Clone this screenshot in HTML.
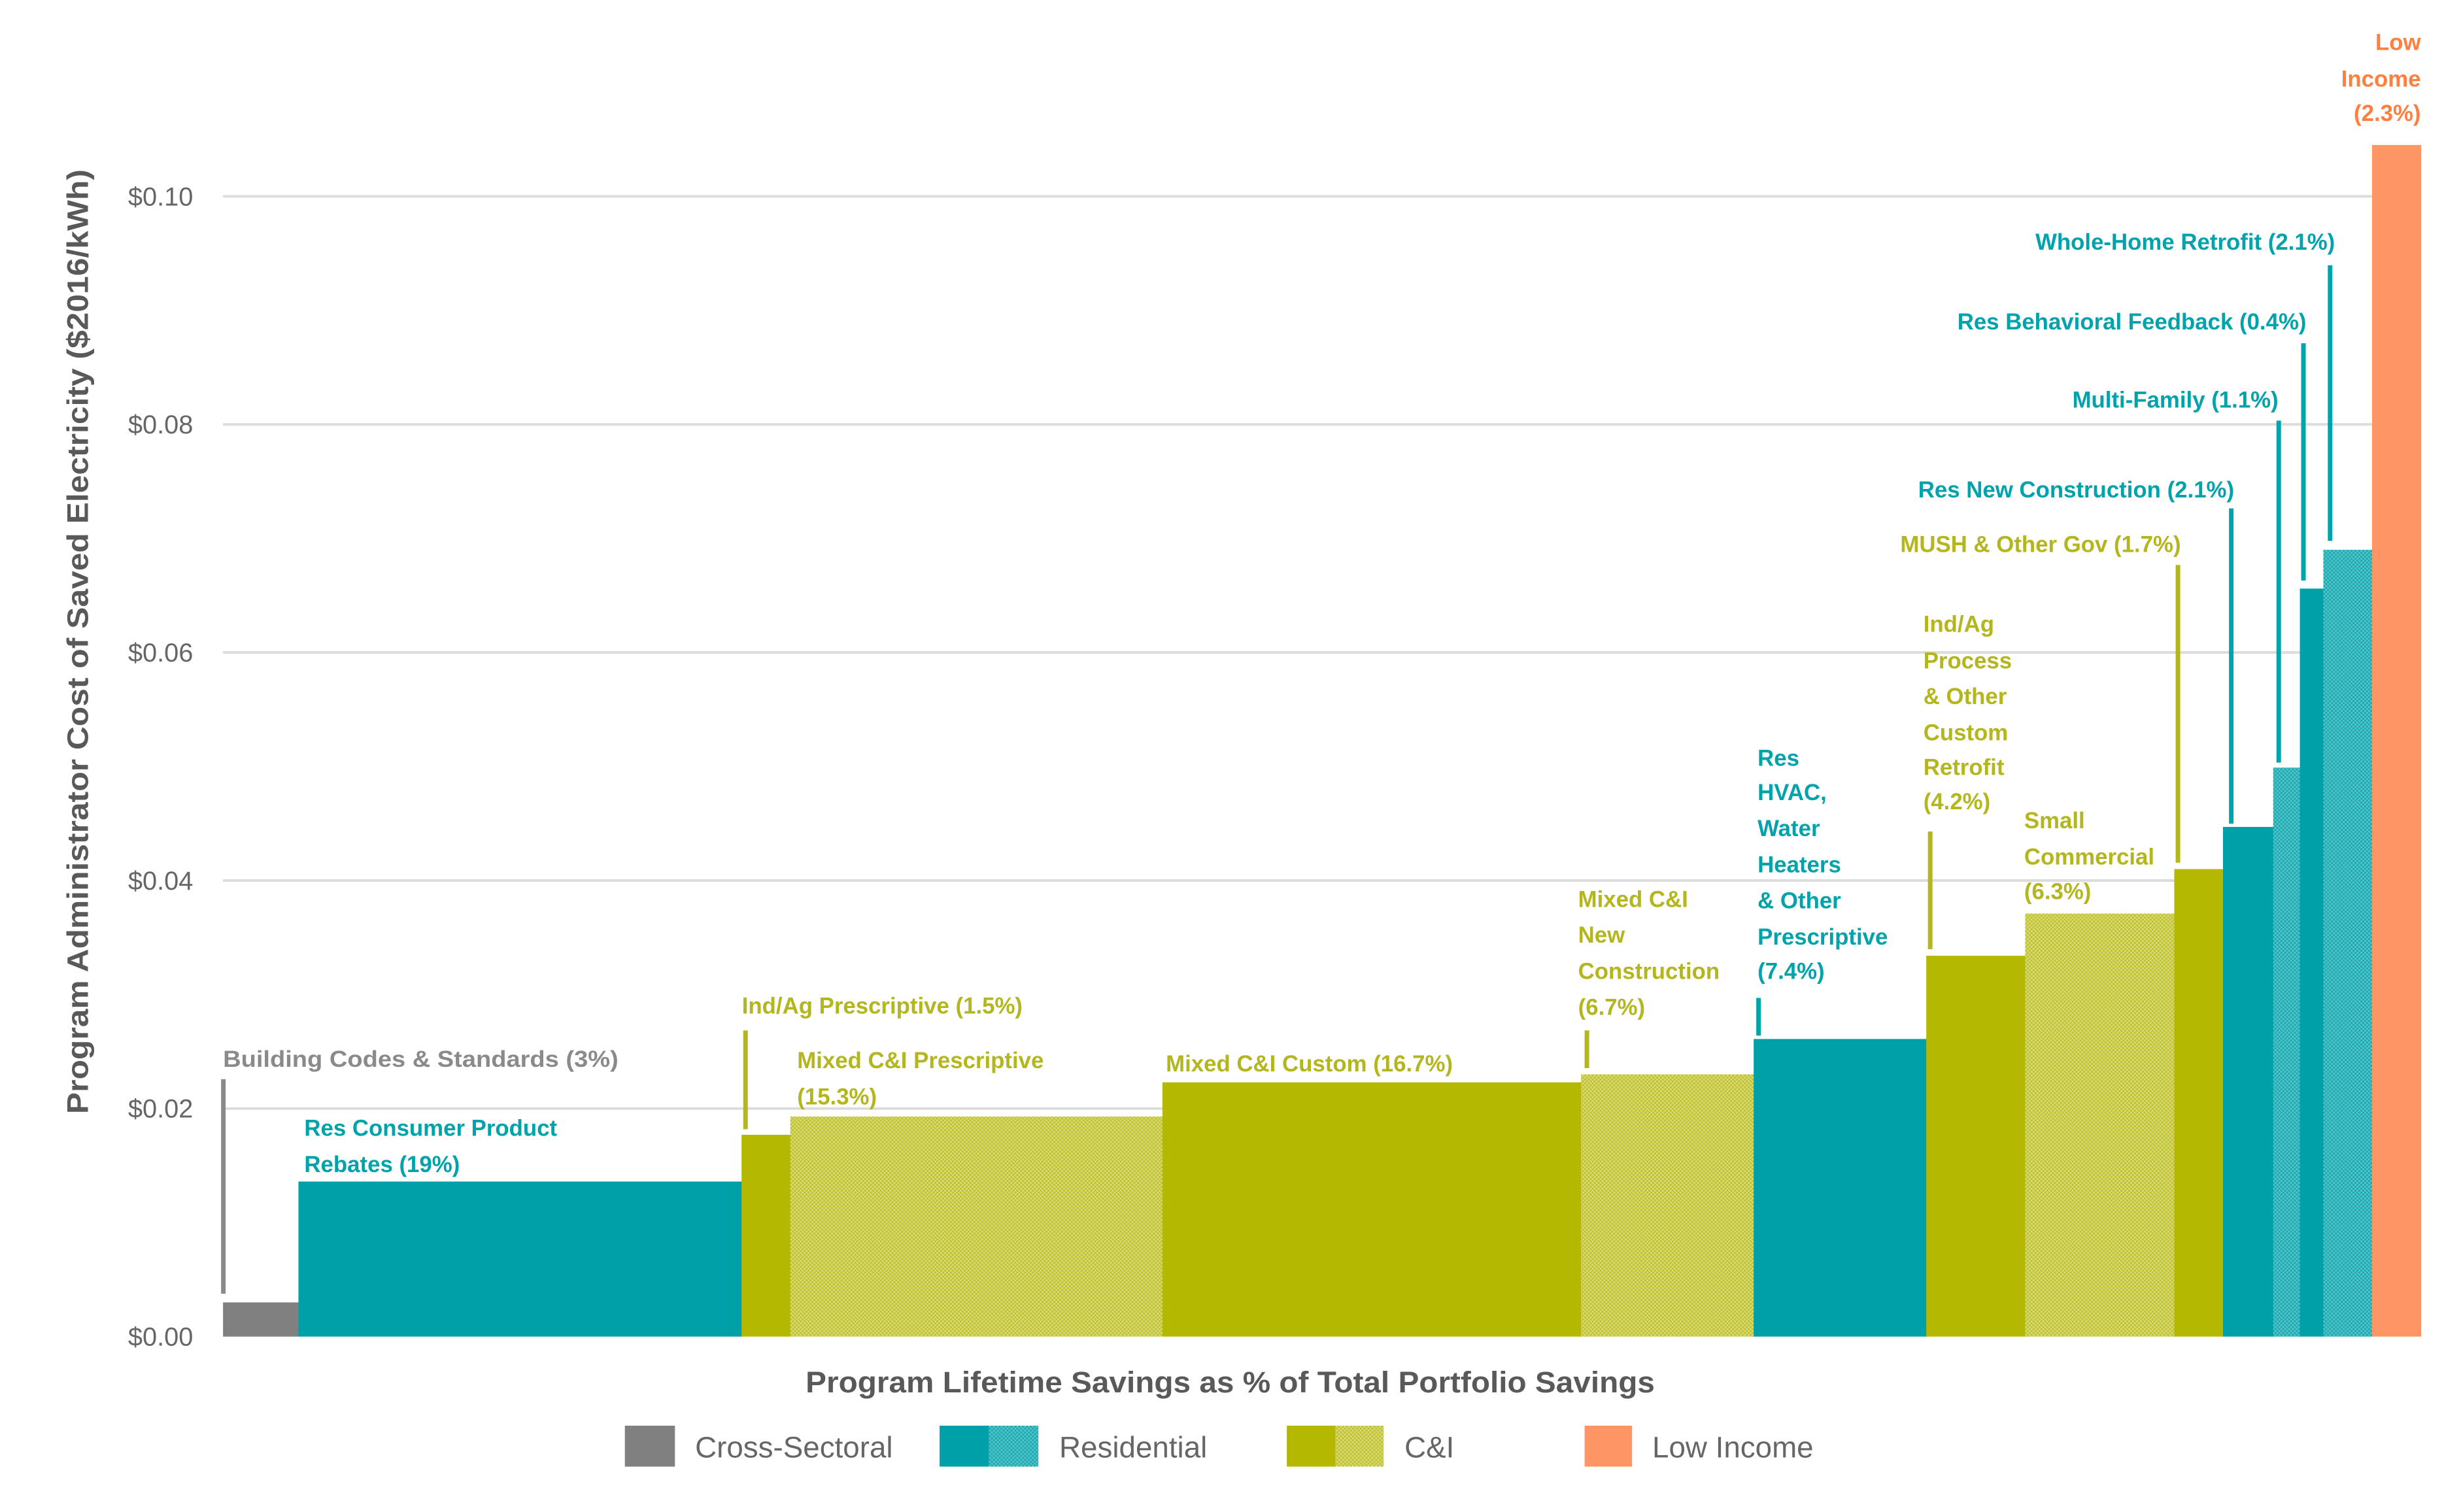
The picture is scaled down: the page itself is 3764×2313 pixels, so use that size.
<!DOCTYPE html>
<html><head><meta charset="utf-8">
<style>
html,body{margin:0;padding:0;background:#fff;}
svg{display:block;}
.lbl{font-family:"Liberation Sans",sans-serif;font-weight:bold;font-size:35px;}
.tick{font-family:"Liberation Sans",sans-serif;font-size:40px;fill:#666;}
.ttl{font-family:"Liberation Sans Narrow","Liberation Sans",sans-serif;font-weight:bold;font-size:46px;fill:#595959;}
.leg{font-family:"Liberation Sans Narrow","Liberation Sans",sans-serif;font-size:46px;fill:#666;}
</style></head>
<body>
<svg id="chart" width="3764" height="2313" viewBox="0 0 3764 2313" xmlns="http://www.w3.org/2000/svg">
<defs>
<pattern id="patTeal" width="6" height="6" patternUnits="userSpaceOnUse"><rect width="6" height="6" fill="#1aaab1"/><rect width="3" height="3" fill="#55c3c8"/><rect x="3" y="3" width="3" height="3" fill="#55c3c8"/></pattern>
<pattern id="patOlive" width="6" height="6" patternUnits="userSpaceOnUse"><rect width="6" height="6" fill="#bfc22a"/><rect width="3" height="3" fill="#d8d97a"/><rect x="3" y="3" width="3" height="3" fill="#d8d97a"/></pattern>
</defs>
<g transform="scale(0.9945)">
<g id="grid"></g>
<g id="bars"></g>
<g id="ticks"></g>
<text class="ttl" transform="translate(135,987) rotate(-90)" text-anchor="middle" textLength="1453" lengthAdjust="spacingAndGlyphs">Program Administrator Cost of Saved Electricity  ($2016/kWh)</text>
<text class="ttl" x="1892" y="2142" text-anchor="middle" textLength="1306" lengthAdjust="spacingAndGlyphs">Program Lifetime Savings as % of Total Portfolio Savings</text>

<g>
<g fill="#8a8a8a" class="lbl"><text x="343" y="1641" textLength="608" lengthAdjust="spacingAndGlyphs">Building Codes &amp; Standards (3%)</text></g>
<rect x="340" y="1660" width="7" height="330" fill="#8a8a8a"/>
<g fill="#00a3ab" class="lbl">
<text x="468" y="1747">Res Consumer Product</text>
<text x="468" y="1803">Rebates (19%)</text>
<text x="2703" y="1178">Res</text>
<text x="2703" y="1231">HVAC,</text>
<text x="2703" y="1286">Water</text>
<text x="2703" y="1342">Heaters</text>
<text x="2703" y="1397">&amp; Other</text>
<text x="2703" y="1453">Prescriptive</text>
<text x="2703" y="1506">(7.4%)</text>
<text x="3436" y="765" text-anchor="end">Res New Construction (2.1%)</text>
<text x="3504" y="627" text-anchor="end">Multi-Family (1.1%)</text>
<text x="3547" y="507" text-anchor="end">Res Behavioral Feedback (0.4%)</text>
<text x="3591" y="384" text-anchor="end">Whole-Home Retrofit (2.1%)</text>
</g>
<g fill="#00a3ab">
<rect x="2701" y="1535" width="7" height="58"/>
<rect x="3428" y="782" width="7" height="485"/>
<rect x="3501" y="647" width="7" height="526"/>
<rect x="3539" y="528" width="7" height="365"/>
<rect x="3580" y="408" width="7" height="424"/>
</g>
<g fill="#b3b61c" class="lbl">
<text x="1141" y="1559">Ind/Ag Prescriptive (1.5%)</text>
<text x="1226" y="1643">Mixed C&amp;I Prescriptive</text>
<text x="1226" y="1699">(15.3%)</text>
<text x="1793" y="1648">Mixed C&amp;I Custom (16.7%)</text>
<text x="2427" y="1395">Mixed C&amp;I</text>
<text x="2427" y="1450">New</text>
<text x="2427" y="1506">Construction</text>
<text x="2427" y="1561">(6.7%)</text>
<text x="2958" y="972">Ind/Ag</text>
<text x="2958" y="1028">Process</text>
<text x="2958" y="1083">&amp; Other</text>
<text x="2958" y="1139">Custom</text>
<text x="2958" y="1192">Retrofit</text>
<text x="2958" y="1245">(4.2%)</text>
<text x="3113" y="1274">Small</text>
<text x="3113" y="1330">Commercial</text>
<text x="3113" y="1383">(6.3%)</text>
<text x="3354" y="849" text-anchor="end">MUSH &amp; Other Gov (1.7%)</text>
</g>
<g fill="#b3b61c">
<rect x="1143" y="1585" width="7" height="152"/>
<rect x="2437" y="1585" width="7" height="58"/>
<rect x="2965" y="1279" width="7" height="181"/>
<rect x="3346" y="869" width="7" height="458"/>
</g>
<g fill="#ff7f3f" class="lbl">
<text x="3723" y="77" text-anchor="end">Low</text>
<text x="3723" y="133" text-anchor="end">Income</text>
<text x="3723" y="186" text-anchor="end">(2.3%)</text>
</g>
</g>

<g>
<g>
<rect x="961" y="2193" width="77" height="63" fill="#808080"/>
<text class="leg" x="1069" y="2242">Cross-Sectoral</text></g>
<g>
<rect x="1445" y="2193" width="76" height="63" fill="#00a0a8"/><rect x="1521" y="2193" width="76" height="63" fill="url(#patTeal)"/>
<text class="leg" x="1629" y="2242">Residential</text></g>
<g>
<rect x="1979" y="2193" width="75" height="63" fill="#b5b800"/><rect x="2054" y="2193" width="74" height="63" fill="url(#patOlive)"/>
<text class="leg" x="2160" y="2242">C&amp;I</text></g>
<g>
<rect x="2437" y="2193" width="73" height="63" fill="#fd9664"/>
<text class="leg" x="2541" y="2242">Low Income</text></g>
</g>
</g>
</svg>
<script>
const programs = ["Building Codes & Standards","Res Consumer Product Rebates","Ind/Ag Prescriptive","Mixed C&I Prescriptive","Mixed C&I Custom","Mixed C&I New Construction","Res HVAC, Water Heaters & Other Prescriptive","Ind/Ag Process & Other Custom Retrofit","Small Commercial","MUSH & Other Gov","Res New Construction","Multi-Family","Res Behavioral Feedback","Whole-Home Retrofit","Low Income"];
const savingsShare = [3.08,18.1,1.99,15.2,17.1,7.05,7.05,4.04,6.09,1.99,2.05,1.09,0.96,1.99,1.99];
const costPerKWh = [0.0030,0.0136,0.0177,0.0193,0.0223,0.0230,0.0261,0.0334,0.0371,0.0410,0.0447,0.0499,0.0656,0.0690,0.1045];
const sectors = ["cross","res","ci","ci-p","ci","ci-p","res","ci","ci-p","ci","res","res-p","res","res-p","low"];
const yTicks = [0,0.02,0.04,0.06,0.08,0.10];
const yTickLabels = ["$0.00","$0.02","$0.04","$0.06","$0.08","$0.10"];

const NS="http://www.w3.org/2000/svg";
const X0=343,X1=3723,Y0=2056,YTOP=302,YMAX=0.10;
const total=savingsShare.reduce((a,b)=>a+b,0);
const xs=v=>X0+(X1-X0)*v/total;
const ys=v=>Y0-(Y0-YTOP)*v/YMAX;
const fills={"cross":"#808080","res":"#00a0a8","res-p":"url(#patTeal)","ci":"#b5b800","ci-p":"url(#patOlive)","low":"#fd9664"};

const grid=document.getElementById('grid'),ticks=document.getElementById('ticks'),bars=document.getElementById('bars');
yTicks.forEach((t,i)=>{
  if(t>0){
    const l=document.createElementNS(NS,'line');
    
    
    l.setAttribute('x1',X0);l.setAttribute('x2',xs(total-savingsShare[savingsShare.length-1]));
    l.setAttribute('y1',ys(t));l.setAttribute('y2',ys(t));
    l.setAttribute('stroke','#dcdcdc');l.setAttribute('stroke-width','4');
    grid.appendChild(l);
  }
  const tx=document.createElementNS(NS,'text');
  
  
  tx.setAttribute('class','tick');
  tx.setAttribute('x',297);tx.setAttribute('y',ys(t)+14);tx.setAttribute('text-anchor','end');
  tx.textContent=yTickLabels[i];
  ticks.appendChild(tx);
});
let cum=0;
programs.forEach((p,i)=>{
  const x=xs(cum),w=xs(cum+savingsShare[i])-x;cum+=savingsShare[i];
  const r=document.createElementNS(NS,'rect');
  
  
  r.setAttribute('x',x);r.setAttribute('width',w+0.5);
  r.setAttribute('y',ys(costPerKWh[i]));r.setAttribute('height',Y0-ys(costPerKWh[i]));
  r.setAttribute('fill',fills[sectors[i]]);
  bars.appendChild(r);
});
</script>
</body></html>
